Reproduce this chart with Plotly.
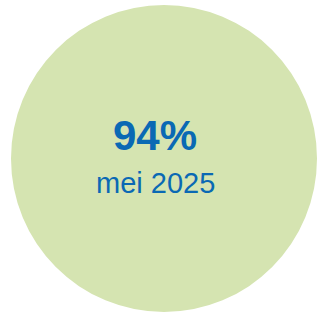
import plotly.graph_objects as go

# data
value_pct = [94]
period_label = ["mei 2025"]

W, H = 321, 317
fig = go.Figure()

fig.add_shape(type="circle", xref="x", yref="y",
              x0=11, x1=317, y0=5, y1=312,
              fillcolor="#d5e4b1", line=dict(width=0), layer="below")

fig.add_annotation(x=154.5, y=135, xref="x", yref="y",
                   text=f"<b>{value_pct[0]}%</b>", showarrow=False,
                   font=dict(family="Liberation Sans, Arial", size=42, color="#0a69b4"),
                   xanchor="center", yanchor="middle")
fig.add_annotation(x=155, y=183, xref="x", yref="y",
                   text=period_label[0], showarrow=False,
                   font=dict(family="Liberation Sans, Arial", size=29, color="#0a69b4"),
                   xanchor="center", yanchor="middle")

fig.update_xaxes(range=[0, W], visible=False, fixedrange=True)
fig.update_yaxes(range=[H, 0], visible=False, fixedrange=True)
fig.update_layout(width=W, height=H, margin=dict(l=0, r=0, t=0, b=0),
                  paper_bgcolor="white", plot_bgcolor="white", showlegend=False)

fig.write_html("out.html", config={"displayModeBar": False},
               post_script="document.body.style.margin='0';document.body.style.overflow='hidden';")
